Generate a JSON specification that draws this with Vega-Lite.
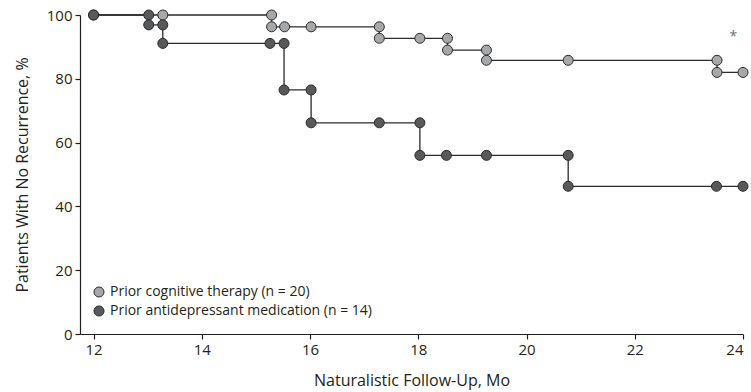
{
  "$schema": "https://vega.github.io/schema/vega-lite/v6.json",
  "width": 663,
  "height": 319,
  "autosize": "none",
  "padding": {"left": 80, "top": 15, "right": 8, "bottom": 58},
  "background": "white",
  "config": {
    "font": "Open Sans",
    "view": {"stroke": null},
    "axis": {"labelFont": "Open Sans", "titleFont": "Open Sans", "labelColor": "#231f20", "titleColor": "#231f20", "domainColor": "#231f20", "tickColor": "#231f20", "grid": false, "labelFontSize": 15, "titleFontSize": 16, "titleFontWeight": "normal", "domainWidth": 1.2, "tickWidth": 1.2, "tickSize": 5, "labelPadding": 3}
  },
  "datasets": {
    "km": [
      {"g": "Prior cognitive therapy (n = 20)", "i": 1, "x": 12.0, "y": 100},
      {"g": "Prior cognitive therapy (n = 20)", "i": 2, "x": 13.28, "y": 100},
      {"g": "Prior cognitive therapy (n = 20)", "i": 3, "x": 15.29, "y": 100},
      {"g": "Prior cognitive therapy (n = 20)", "i": 4, "x": 15.29, "y": 96.3},
      {"g": "Prior cognitive therapy (n = 20)", "i": 5, "x": 15.53, "y": 96.3},
      {"g": "Prior cognitive therapy (n = 20)", "i": 6, "x": 16.02, "y": 96.3},
      {"g": "Prior cognitive therapy (n = 20)", "i": 7, "x": 17.28, "y": 96.3},
      {"g": "Prior cognitive therapy (n = 20)", "i": 8, "x": 17.28, "y": 92.7},
      {"g": "Prior cognitive therapy (n = 20)", "i": 9, "x": 18.03, "y": 92.7},
      {"g": "Prior cognitive therapy (n = 20)", "i": 10, "x": 18.54, "y": 92.7},
      {"g": "Prior cognitive therapy (n = 20)", "i": 11, "x": 18.54, "y": 89.0},
      {"g": "Prior cognitive therapy (n = 20)", "i": 12, "x": 19.26, "y": 89.0},
      {"g": "Prior cognitive therapy (n = 20)", "i": 13, "x": 19.26, "y": 85.8},
      {"g": "Prior cognitive therapy (n = 20)", "i": 14, "x": 20.77, "y": 85.8},
      {"g": "Prior cognitive therapy (n = 20)", "i": 15, "x": 23.52, "y": 85.8},
      {"g": "Prior cognitive therapy (n = 20)", "i": 16, "x": 23.52, "y": 82.0},
      {"g": "Prior cognitive therapy (n = 20)", "i": 17, "x": 24.0, "y": 82.0},
      {"g": "Prior antidepressant medication (n = 14)", "i": 1, "x": 12.0, "y": 100},
      {"g": "Prior antidepressant medication (n = 14)", "i": 2, "x": 13.02, "y": 100},
      {"g": "Prior antidepressant medication (n = 14)", "i": 3, "x": 13.02, "y": 96.9},
      {"g": "Prior antidepressant medication (n = 14)", "i": 4, "x": 13.28, "y": 96.9},
      {"g": "Prior antidepressant medication (n = 14)", "i": 5, "x": 13.28, "y": 91.1},
      {"g": "Prior antidepressant medication (n = 14)", "i": 6, "x": 15.26, "y": 91.1},
      {"g": "Prior antidepressant medication (n = 14)", "i": 7, "x": 15.52, "y": 91.1},
      {"g": "Prior antidepressant medication (n = 14)", "i": 8, "x": 15.52, "y": 76.5},
      {"g": "Prior antidepressant medication (n = 14)", "i": 9, "x": 16.02, "y": 76.5},
      {"g": "Prior antidepressant medication (n = 14)", "i": 10, "x": 16.02, "y": 66.2},
      {"g": "Prior antidepressant medication (n = 14)", "i": 11, "x": 17.28, "y": 66.2},
      {"g": "Prior antidepressant medication (n = 14)", "i": 12, "x": 18.03, "y": 66.2},
      {"g": "Prior antidepressant medication (n = 14)", "i": 13, "x": 18.03, "y": 56.0},
      {"g": "Prior antidepressant medication (n = 14)", "i": 14, "x": 18.52, "y": 56.0},
      {"g": "Prior antidepressant medication (n = 14)", "i": 15, "x": 19.26, "y": 56.0},
      {"g": "Prior antidepressant medication (n = 14)", "i": 16, "x": 20.77, "y": 56.0},
      {"g": "Prior antidepressant medication (n = 14)", "i": 17, "x": 20.77, "y": 46.3},
      {"g": "Prior antidepressant medication (n = 14)", "i": 18, "x": 23.51, "y": 46.3},
      {"g": "Prior antidepressant medication (n = 14)", "i": 19, "x": 24.0, "y": 46.3}
    ],
    "note": [{"x": 23.82, "y": 93.2, "t": "*"}]
  },
  "layer": [
    {
      "data": {"name": "km"},
      "mark": {"type": "line", "color": "#2b2b2b", "strokeWidth": 1.3, "clip": false},
      "encoding": {
        "x": {"field": "x", "type": "quantitative", "scale": {"domain": [11.75, 24], "nice": false, "zero": false},
              "axis": {"values": [12, 14, 16, 18, 20, 22, 24], "title": "Naturalistic Follow-Up, Mo", "titlePadding": 15}},
        "y": {"field": "y", "type": "quantitative", "scale": {"domain": [0, 100], "nice": false},
              "axis": {"values": [0, 20, 40, 60, 80, 100], "title": "Patients With No Recurrence, %", "titlePadding": 16}},
        "detail": {"field": "g"},
        "order": {"field": "i", "type": "quantitative"}
      }
    },
    {
      "data": {"name": "km"},
      "mark": {"type": "point", "filled": true, "opacity": 1, "size": 100, "stroke": "#2b2b2b", "strokeWidth": 1, "clip": false},
      "encoding": {
        "x": {"field": "x", "type": "quantitative"},
        "y": {"field": "y", "type": "quantitative"},
        "fill": {"field": "g", "type": "nominal",
                 "scale": {"domain": ["Prior cognitive therapy (n = 20)", "Prior antidepressant medication (n = 14)"], "range": ["#a7a8aa", "#58595b"]},
                 "legend": {"title": null, "orient": "none", "legendX": 12, "legendY": 270, "symbolType": "circle", "symbolSize": 100, "symbolStrokeColor": "#2b2b2b", "symbolStrokeWidth": 1, "labelFontSize": 14, "labelFont": "Open Sans", "labelColor": "#231f20", "rowPadding": 5, "labelOffset": 4, "labelLimit": 400}}
      }
    },
    {
      "data": {"name": "note"},
      "mark": {"type": "text", "fontSize": 14, "color": "#6d6e71", "font": "Open Sans"},
      "encoding": {
        "x": {"field": "x", "type": "quantitative"},
        "y": {"field": "y", "type": "quantitative"},
        "text": {"field": "t"}
      }
    }
  ]
}
